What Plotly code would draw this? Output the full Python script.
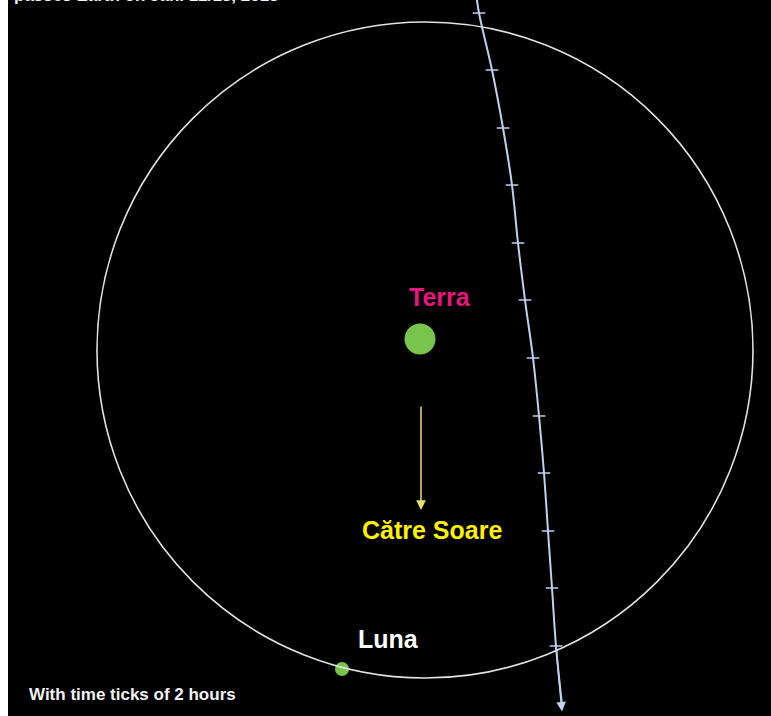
import plotly.graph_objects as go

# Data (units: lunar distance, Earth-circle centre at origin)
traj_x = [0.1555, 0.1646, 0.2043, 0.2378, 0.2652, 0.2835, 0.3049, 0.3293, 0.3476, 0.3628, 0.3750, 0.3872, 0.3994, 0.4177]
traj_y = [1.0900, 1.0274, 0.8537, 0.6768, 0.5030, 0.3262, 0.1524, -0.0244, -0.2012, -0.3750, -0.5518, -0.7256, -0.9024, -1.0823]
tick_idx = list(range(1, 13))

terra_xy = (-0.0152, 0.0335)
luna_xy = (-0.2530, -0.9726)
orbit_r = 1.0
sun_arrow_x = [-0.0122, -0.0122]
sun_arrow_y = [-0.1677, -0.4878]

labels = {
    "terra": ("Terra", 0.0457, 0.1616),
    "soare": ("Către Soare", 0.0213, -0.5488),
    "luna": ("Luna", -0.1128, -0.8810),
}
footnote = "With time ticks of 2 hours"
title_txt = "passes Earth on Jan. 12/13, 2013"

# layout geometry
W, H = 771, 716
L = 8
cx, cy, scale = 425, 350, 328
xr = [(L - cx) / scale, (W - cx) / scale]
yr = [(cy - H) / scale, cy / scale]

fig = go.Figure()

fig.add_shape(type="circle", xref="x", yref="y",
              x0=-orbit_r, x1=orbit_r, y0=-orbit_r, y1=orbit_r,
              line=dict(color="#e2e2e2", width=1.6))

fig.add_trace(go.Scatter(x=traj_x, y=traj_y, mode="lines",
                         line=dict(color="#bcd2f0", width=2, shape="spline"),
                         hoverinfo="skip"))
fig.add_trace(go.Scatter(x=[traj_x[i] for i in tick_idx], y=[traj_y[i] for i in tick_idx],
                         mode="markers",
                         marker=dict(symbol="line-ew", size=9,
                                     line=dict(color="#bcd2f0", width=1.5)),
                         hoverinfo="skip"))
# trajectory arrowhead
fig.add_annotation(x=traj_x[-1], y=traj_y[-1] - 0.02, ax=traj_x[-2], ay=traj_y[-2],
                   xref="x", yref="y", axref="x", ayref="y", text="",
                   showarrow=True, arrowhead=2, arrowsize=1.2, arrowwidth=1.6,
                   arrowcolor="#bcd2f0", standoff=0)

fig.add_trace(go.Scatter(x=[terra_xy[0]], y=[terra_xy[1]], mode="markers",
                         marker=dict(size=31, color="#78c44c"), hoverinfo="skip"))
fig.add_trace(go.Scatter(x=[luna_xy[0]], y=[luna_xy[1]], mode="markers",
                         marker=dict(size=14, color="#78c44c"), hoverinfo="skip"))

# arrow to the Sun
fig.add_annotation(x=sun_arrow_x[1], y=sun_arrow_y[1], ax=sun_arrow_x[0], ay=sun_arrow_y[0],
                   xref="x", yref="y", axref="x", ayref="y", text="",
                   showarrow=True, arrowhead=2, arrowsize=1.3, arrowwidth=1.5,
                   arrowcolor="#e6e070", standoff=0)

colors = {"terra": "#e6157f", "soare": "#fff200", "luna": "#ffffff"}
for k, (t, x, y) in labels.items():
    fig.add_annotation(x=x, y=y, xref="x", yref="y", text=f"<b>{t}</b>", showarrow=False,
                       font=dict(family="Liberation Sans, Arial", size=25, color=colors[k]))

fig.add_annotation(x=(27 - L) / (W - L), y=(H - 694) / H, xref="paper", yref="paper",
                   xanchor="left", yanchor="middle", text=f"<b>{footnote}</b>", showarrow=False,
                   font=dict(family="Liberation Sans, Arial", size=17, color="#f2f2f2"))
fig.add_annotation(x=(12 - L) / (W - L), y=1 + 4 / H, xref="paper", yref="paper",
                   xanchor="left", yanchor="middle", text=f"<b>{title_txt}</b>", showarrow=False,
                   font=dict(family="Liberation Sans, Arial", size=17, color="#f2f2f2"))

fig.update_layout(
    width=W, height=H, showlegend=False,
    margin=dict(l=L, r=0, t=0, b=0),
    paper_bgcolor="white", plot_bgcolor="black",
    xaxis=dict(range=xr, visible=False, fixedrange=True),
    yaxis=dict(range=yr, visible=False, fixedrange=True),
)

fig.write_html("out.html", config={"displayModeBar": False},
               post_script="document.body.style.margin='0';document.body.style.padding='0';")
